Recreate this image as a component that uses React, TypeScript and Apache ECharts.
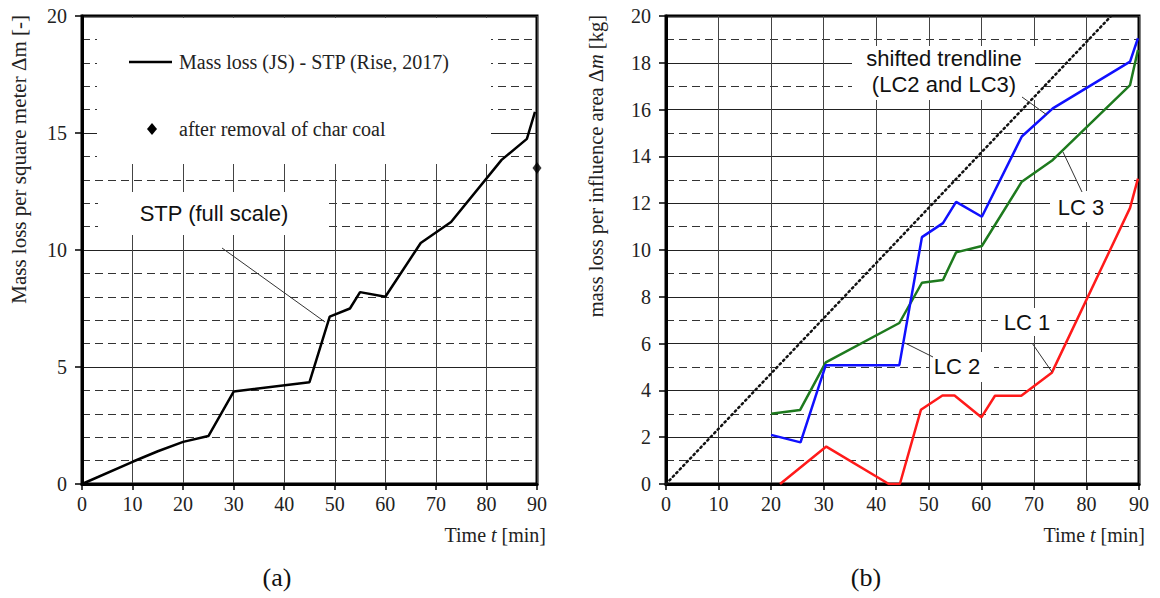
import React, { useEffect, useRef } from "react";
import * as echarts from "echarts";

// ---- Data (a) ----
const timeA = [0, 10, 15, 20, 25, 30, 45, 49, 53, 55, 60, 67, 73, 83, 88, 89.6];
const massA = [0, 0.95, 1.4, 1.8, 2.05, 3.95, 4.35, 7.15, 7.5, 8.2, 8.0, 10.3, 11.2, 13.85, 14.75, 15.9];
const charT = [90];
const charM = [13.5];

// ---- Data (b) ----
const lc1T = [21.7, 30.5, 42.4, 44.5, 48.5, 52.6, 54.9, 60.0, 62.6, 67.6, 73.4, 88.3, 89.8];
const lc1M = [0, 1.6, 0, 0, 3.17, 3.78, 3.78, 2.85, 3.77, 3.77, 4.75, 11.8, 13.05];
const lc2T = [20, 25.6, 30.4, 44.4, 48.7, 52.7, 55.2, 60.1, 67.7, 73.6, 88.3, 89.8];
const lc2M = [2.1, 1.78, 5.08, 5.08, 10.55, 11.15, 12.06, 11.42, 14.85, 16.05, 18.05, 19.05];
const lc3T = [20, 25.5, 30.4, 44.4, 48.7, 52.7, 55.2, 60.1, 67.7, 73.6, 88.3, 89.8];
const lc3M = [3.0, 3.16, 5.2, 6.88, 8.6, 8.72, 9.9, 10.17, 12.92, 13.85, 17.05, 18.55];
const trendT = [0, 84.7];
const trendM = [0, 20];

const xTicks = [0, 90, 10];
const yTicksA = [0, 20, 5];
const yTicksB = [0, 20, 2];

const zip = (a: number[], b: number[]) => a.map((v, i) => [v, b[i]]);

const SERIF = "Liberation Serif";
const SANS = "Liberation Sans";

function xAxisCfg(gridIndex: number) {
  return {
    type: "value",
    gridIndex,
    min: xTicks[0],
    max: xTicks[1],
    interval: xTicks[2],
    axisLine: { show: true, onZero: false, lineStyle: { color: "#000", width: 3 } },
    axisTick: { show: true, length: 6, lineStyle: { color: "#000", width: 1.5 } },
    axisLabel: { fontFamily: SERIF, fontSize: 20, color: "#222", margin: 10 },
    splitLine: { show: true, lineStyle: { color: "#444", width: 1 } },
  };
}

function yAxisCfg(gridIndex: number, ticks: number[], minorSplit: number) {
  return {
    type: "value",
    gridIndex,
    min: ticks[0],
    max: ticks[1],
    interval: ticks[2],
    axisLine: { show: true, onZero: false, lineStyle: { color: "#000", width: 3 } },
    axisTick: { show: true, length: 7, lineStyle: { color: "#000", width: 1.5 } },
    axisLabel: { fontFamily: SERIF, fontSize: 20, color: "#222", margin: 15 },
    splitLine: { show: true, lineStyle: { color: "#222", width: 1 } },
    minorTick: { show: false, splitNumber: minorSplit },
    minorSplitLine: { show: true, lineStyle: { color: "#333", width: 1, type: [8, 5] } },
  };
}

const whiteRect = (x: number, y: number, w: number, h: number) => ({
  type: "rect",
  z: 1,
  shape: { x, y, width: w, height: h },
  style: { fill: "#fff" },
});

const leader = (x1: number, y1: number, x2: number, y2: number) => ({
  type: "line",
  z: 5,
  shape: { x1, y1, x2, y2 },
  style: { stroke: "#333", lineWidth: 1 },
});

const sansText = (x: number, y: number, text: string) => ({
  type: "text",
  z: 6,
  x,
  y,
  style: {
    text,
    fontFamily: SANS,
    fontSize: 22,
    fill: "#111",
    align: "center",
    verticalAlign: "middle",
    lineHeight: 26,
  },
});

export default function App() {
  const ref = useRef<HTMLDivElement>(null);

  useEffect(() => {
    if (!ref.current) return;
    const chart = echarts.init(ref.current, null, { renderer: "svg" });

    const option: any = {
      animation: false,
      backgroundColor: "#fff",
      grid: [
        { left: 82, top: 16, width: 455, height: 468, show: true, borderColor: "#000", borderWidth: 3, backgroundColor: "transparent" },
        { left: 666, top: 16, width: 473, height: 468, show: true, borderColor: "#000", borderWidth: 3, backgroundColor: "transparent" },
      ],
      xAxis: [xAxisCfg(0), xAxisCfg(1)],
      yAxis: [yAxisCfg(0, yTicksA, 5), yAxisCfg(1, yTicksB, 2)],
      series: [
        {
          name: "Mass loss (JS) - STP (Rise, 2017)",
          type: "line",
          xAxisIndex: 0,
          yAxisIndex: 0,
          data: zip(timeA, massA),
          showSymbol: false,
          z: 3,
          lineStyle: { color: "#000", width: 2.5 },
          itemStyle: { color: "#000" },
        },
        {
          name: "after removal of char coal",
          type: "scatter",
          xAxisIndex: 0,
          yAxisIndex: 0,
          data: zip(charT, charM),
          symbol: "diamond",
          symbolSize: [9, 12],
          clip: false,
          z: 4,
          itemStyle: { color: "#000" },
        },
        {
          name: "shifted trendline",
          type: "line",
          xAxisIndex: 1,
          yAxisIndex: 1,
          data: zip(trendT, trendM),
          showSymbol: false,
          z: 3,
          lineStyle: { color: "#111", width: 2.5, type: [1.5, 3.5], cap: "round" },
        },
        {
          name: "LC 1",
          type: "line",
          xAxisIndex: 1,
          yAxisIndex: 1,
          data: zip(lc1T, lc1M),
          showSymbol: false,
          z: 3,
          lineStyle: { color: "#ff1a1a", width: 2.5 },
        },
        {
          name: "LC 3",
          type: "line",
          xAxisIndex: 1,
          yAxisIndex: 1,
          data: zip(lc3T, lc3M),
          showSymbol: false,
          z: 3,
          lineStyle: { color: "#1e7a1e", width: 2.5 },
        },
        {
          name: "LC 2",
          type: "line",
          xAxisIndex: 1,
          yAxisIndex: 1,
          data: zip(lc2T, lc2M),
          showSymbol: false,
          z: 3,
          lineStyle: { color: "#1010ff", width: 2.5 },
        },
      ],
      graphic: [
        // (a) legend box and label boxes
        whiteRect(97, 18, 394, 146),
        whiteRect(98, 192, 230, 43),
        {
          type: "line",
          z: 6,
          shape: { x1: 129, y1: 62, x2: 172, y2: 62 },
          style: { stroke: "#000", lineWidth: 2.5 },
        },
        {
          type: "text",
          z: 6,
          x: 179,
          y: 62,
          style: { text: "Mass loss (JS) - STP (Rise, 2017)", fontFamily: SERIF, fontSize: 20, fill: "#222", align: "left", verticalAlign: "middle" },
        },
        {
          type: "polygon",
          z: 6,
          shape: { points: [[152, 123], [157, 129], [152, 135], [147, 129]] },
          style: { fill: "#000" },
        },
        {
          type: "text",
          z: 6,
          x: 179,
          y: 129,
          style: { text: "after removal of char coal", fontFamily: SERIF, fontSize: 20, fill: "#222", align: "left", verticalAlign: "middle" },
        },
        sansText(214, 213, "STP (full scale)"),
        leader(222, 248, 325, 322),
        // (b) label boxes
        whiteRect(852, 46, 183, 54),
        whiteRect(1050, 191, 60, 31),
        whiteRect(930, 352, 64, 30),
        whiteRect(998, 308, 59, 28),
        sansText(944, 71, "shifted trendline\n(LC2 and LC3)"),
        leader(1022, 97, 1047, 115),
        sansText(1081, 207, "LC 3"),
        leader(1063, 152, 1082, 192),
        sansText(957, 366, "LC 2"),
        leader(905, 343, 933, 357),
        sansText(1027, 322, "LC 1"),
        leader(1032, 343, 1052, 372),
        // axis titles
        {
          type: "text",
          z: 6,
          x: 19,
          y: 15,
          rotation: Math.PI / 2,
          style: { text: "Mass loss per square meter Δm [-]", fontFamily: SERIF, fontSize: 21, fill: "#222", align: "right", verticalAlign: "middle" },
        },
        {
          type: "text",
          z: 6,
          x: 596,
          y: 15,
          rotation: Math.PI / 2,
          style: {
            text: "mass loss per influence area Δ{i|m} [kg]",
            fontFamily: SERIF,
            fontSize: 20.5,
            fill: "#222",
            align: "right",
            verticalAlign: "middle",
            rich: { i: { fontFamily: SERIF, fontSize: 20.5, fontStyle: "italic", fill: "#222" } },
          },
        },
        {
          type: "text",
          z: 6,
          x: 546,
          y: 535,
          style: {
            text: "Time {i|t} [min]",
            fontFamily: SERIF,
            fontSize: 20,
            fill: "#222",
            align: "right",
            verticalAlign: "middle",
            rich: { i: { fontFamily: SERIF, fontSize: 20, fontStyle: "italic", fill: "#222" } },
          },
        },
        {
          type: "text",
          z: 6,
          x: 1145,
          y: 535,
          style: {
            text: "Time {i|t} [min]",
            fontFamily: SERIF,
            fontSize: 20,
            fill: "#222",
            align: "right",
            verticalAlign: "middle",
            rich: { i: { fontFamily: SERIF, fontSize: 20, fontStyle: "italic", fill: "#222" } },
          },
        },
        // captions
        {
          type: "text",
          z: 6,
          x: 277,
          y: 577,
          style: { text: "(a)", fontFamily: SERIF, fontSize: 26, fill: "#111", align: "center", verticalAlign: "middle" },
        },
        {
          type: "text",
          z: 6,
          x: 866,
          y: 577,
          style: { text: "(b)", fontFamily: SERIF, fontSize: 26, fill: "#111", align: "center", verticalAlign: "middle" },
        },
      ],
    };

    chart.setOption(option);
    return () => chart.dispose();
  }, []);

  return (
    <div
      ref={ref}
      style={{ position: "fixed", left: 0, top: 0, width: 1160, height: 598, background: "#fff" }}
    />
  );
}
